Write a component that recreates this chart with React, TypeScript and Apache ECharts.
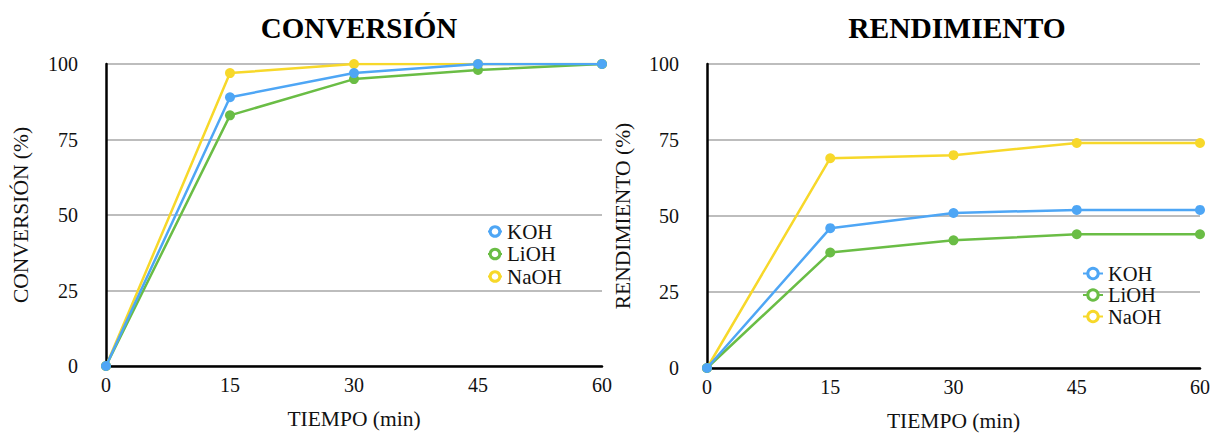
import React, { useEffect, useRef } from "react";
import * as echarts from "echarts";

// Reaction time (min)
const tiempo = [0, 15, 30, 45, 60];

// Conversion (%) for each catalyst
const conversionKOH = [0, 89, 97, 100, 100];
const conversionLiOH = [0, 83, 95, 98, 100];
const conversionNaOH = [0, 97, 100, 100, 100];

// Yield (%) for each catalyst
const rendimientoKOH = [0, 46, 51, 52, 52];
const rendimientoLiOH = [0, 38, 42, 44, 44];
const rendimientoNaOH = [0, 69, 70, 74, 74];

const catalizadores = ["KOH", "LiOH", "NaOH"];
const colores: Record<string, string> = {
  KOH: "#4ea6f5",
  LiOH: "#6abd45",
  NaOH: "#f7d82a",
};

const FONT = "Liberation Serif";

const pairs = (ys: number[]) => tiempo.map((t, i) => [t, ys[i]]);

function lineSeries(name: string, ys: number[], idx: number) {
  return {
    type: "line",
    name,
    xAxisIndex: idx,
    yAxisIndex: idx,
    data: pairs(ys),
    symbol: "circle",
    symbolSize: 10,
    showSymbol: true,
    lineStyle: { width: 2.5, color: colores[name] },
    itemStyle: { color: colores[name] },
    z: name === "KOH" ? 5 : name === "LiOH" ? 4 : 3,
  };
}

function legendData(width: number) {
  return catalizadores.map((n) => ({
    name: n,
    itemStyle: { color: "#ffffff", borderColor: colores[n], borderWidth: width },
  }));
}

function xAxisCfg(idx: number) {
  return {
    type: "value",
    gridIndex: idx,
    min: 0,
    max: 60,
    interval: 15,
    name: "TIEMPO (min)",
    nameLocation: "middle",
    nameGap: 42,
    nameTextStyle: { fontFamily: FONT, fontSize: 21.5, color: "#111" },
    axisLine: { show: true, lineStyle: { color: "#000", width: 2.5 } },
    axisTick: { show: false },
    axisLabel: { fontFamily: FONT, fontSize: 20, color: "#111", margin: 9 },
    splitLine: { show: false },
  };
}

function yAxisCfg(idx: number, name: string, gap: number) {
  return {
    type: "value",
    gridIndex: idx,
    min: 0,
    max: 100,
    interval: 25,
    name,
    nameLocation: "middle",
    nameGap: gap,
    nameTextStyle: { fontFamily: FONT, fontSize: 21.5, color: "#111" },
    axisLine: { show: true, onZero: false, lineStyle: { color: "#000", width: 2.5 } },
    axisTick: { show: false },
    axisLabel: { fontFamily: FONT, fontSize: 20, color: "#111", margin: 28 },
    splitLine: { show: true, lineStyle: { color: "#bdbdbd", width: 2 } },
  };
}

export default function App() {
  const ref = useRef<HTMLDivElement>(null);

  useEffect(() => {
    if (!ref.current) return;
    const chart = echarts.init(ref.current, undefined, { renderer: "svg" });
    chart.setOption({
      animation: false,
      backgroundColor: "#ffffff",
      textStyle: { fontFamily: FONT },
      title: [
        {
          text: "CONVERSIÓN",
          left: 354,
          top: 8,
          textAlign: "center",
          textStyle: { fontFamily: FONT, fontSize: 29, fontWeight: "bold", color: "#000" },
        },
        {
          text: "RENDIMIENTO",
          left: 952,
          top: 8,
          textAlign: "center",
          textStyle: { fontFamily: FONT, fontSize: 29.5, fontWeight: "bold", color: "#000" },
        },
      ],
      legend: [
        {
          orient: "vertical",
          left: 482,
          top: 216,
          itemWidth: 14,
          itemHeight: 12,
          itemGap: 1.5,
          itemTextGap: 21,
          textStyle: { fontFamily: FONT, fontSize: 21, color: "#111" },
          data: legendData(3),
        },
        {
          orient: "vertical",
          left: 1077,
          top: 258,
          itemWidth: 20,
          itemHeight: 13,
          itemGap: 0.5,
          itemTextGap: 16,
          textStyle: { fontFamily: FONT, fontSize: 20.5, color: "#111" },
          data: legendData(3),
        },
      ],
      grid: [
        { left: 106, right: 612, top: 64, bottom: 71 },
        { left: 707, right: 14, top: 64, bottom: 64 },
      ],
      xAxis: [xAxisCfg(0), xAxisCfg(1)],
      yAxis: [
        yAxisCfg(0, "CONVERSIÓN (%)", 74),
        yAxisCfg(1, "RENDIMIENTO (%)", 73.5),
      ],
      series: [
        lineSeries("KOH", conversionKOH, 0),
        lineSeries("LiOH", conversionLiOH, 0),
        lineSeries("NaOH", conversionNaOH, 0),
        lineSeries("KOH", rendimientoKOH, 1),
        lineSeries("LiOH", rendimientoLiOH, 1),
        lineSeries("NaOH", rendimientoNaOH, 1),
      ],
    });
    return () => chart.dispose();
  }, []);

  return (
    <div
      ref={ref}
      style={{ position: "fixed", left: 0, top: 0, width: 1214, height: 437, background: "#fff" }}
    />
  );
}
